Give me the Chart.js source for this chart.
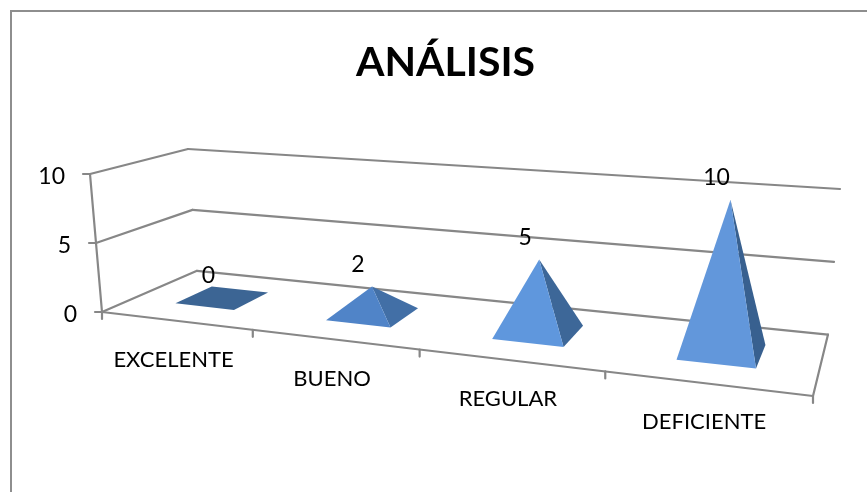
<!DOCTYPE html>
<html>
<head>
<meta charset="utf-8">
<title>ANÁLISIS</title>
<script src="https://cdn.jsdelivr.net/npm/chart.js@4"></script>
<style>
  html, body { margin: 0; padding: 0; background: #fff; }
  #wrap { width: 867px; height: 492px; }
</style>
</head>
<body>
<div id="wrap"><canvas id="chart" width="867" height="492"></canvas></div>
<script>
const categories = ['EXCELENTE', 'BUENO', 'REGULAR', 'DEFICIENTE'];
const values = [0, 2, 5, 10];
const yTicks = [0, 5, 10];

// face colours, one per pyramid (the light falls differently on each slope)
const frontColors = ['#3c6594', '#5084c8', '#5f97dd', '#6297db'];
const sideColors = ['#3c6594', '#426fa6', '#3d6798', '#38608f'];

// the 3D box as it sits on the page: floor and ceiling corners
const FONT = 'Lato, Carlito, "Open Sans", sans-serif';
const LINE = '#878787';
const floorQuad = [[102, 312], [813, 396], [828, 334.6], [197, 270.8]];
const ceilQuad = [[90, 174], [827, 227], [840, 189], [188, 149]];
const BASE_U = 0.2;   // half width of a pyramid base, as a share of its category
const BASE_V = 0.2;   // half depth of a base, depth runs 0..1

// unit square -> quad (u along front edge, v towards the back)
function homography(q) {
  const [p0, p1, p2, p3] = q;
  const dx1 = p1[0] - p2[0], dx2 = p3[0] - p2[0], sx = p0[0] - p1[0] + p2[0] - p3[0];
  const dy1 = p1[1] - p2[1], dy2 = p3[1] - p2[1], sy = p0[1] - p1[1] + p2[1] - p3[1];
  const det = dx1 * dy2 - dx2 * dy1;
  const g = (sx * dy2 - dx2 * sy) / det;
  const h = (dx1 * sy - sx * dy1) / det;
  const a = p1[0] - p0[0] + g * p1[0], b = p3[0] - p0[0] + h * p3[0], c = p0[0];
  const d = p1[1] - p0[1] + g * p1[1], e = p3[1] - p0[1] + h * p3[1], f = p0[1];
  return (u, v) => {
    const k = g * u + h * v + 1;
    return [(a * u + b * v + c) / k, (d * u + e * v + f) / k];
  };
}
const floorMap = homography(floorQuad);
const ceilMap = homography(ceilQuad);

function project(u, v, w) {
  const a = floorMap(u, v), b = ceilMap(u, v);
  return [a[0] + (b[0] - a[0]) * w, a[1] + (b[1] - a[1]) * w];
}

function poly(ctx, pts, fill) {
  ctx.beginPath();
  pts.forEach((p, i) => i ? ctx.lineTo(p[0], p[1]) : ctx.moveTo(p[0], p[1]));
  ctx.closePath();
  ctx.fillStyle = fill;
  ctx.fill();
}

function seg(ctx, a, b) {
  ctx.beginPath();
  ctx.moveTo(a[0], a[1]);
  ctx.lineTo(b[0], b[1]);
  ctx.stroke();
}

const box3d = {
  id: 'box3d',
  beforeDraw(chart) {
    const ctx = chart.ctx;
    ctx.save();
    // chart frame, only top and left are in the picture
    ctx.strokeStyle = '#8e8e8e';
    ctx.lineWidth = 2;
    ctx.beginPath();
    ctx.moveTo(11, 492);
    ctx.lineTo(11, 11);
    ctx.lineTo(867, 11);
    ctx.stroke();
    ctx.restore();
  },
  beforeDatasetsDraw(chart) {
    const ctx = chart.ctx;
    const xs = chart.scales.x, ys = chart.scales.y;
    const area = chart.chartArea;
    const wOf = v => (area.bottom - ys.getPixelForValue(v)) / area.height;
    const uOf = i => (xs.getPixelForValue(i) - area.left) / area.width;
    const cellU = 1 / categories.length;

    ctx.save();
    ctx.strokeStyle = LINE;
    ctx.lineWidth = 2.2;
    ctx.lineCap = 'round';
    ctx.lineJoin = 'round';

    // walls and floor
    ys.ticks.forEach(t => {
      const w = wOf(t.value);
      const a = project(0, 0, w), b = project(0, 1, w), c = project(1, 1, w);
      seg(ctx, [a[0] - 7, a[1]], a);
      seg(ctx, a, b);
      seg(ctx, b, c);
    });
    seg(ctx, project(0, 0, 0), project(0, 0, 1));
    seg(ctx, project(0, 0, 0), project(1, 0, 0));
    seg(ctx, project(1, 0, 0), project(1, 1, 0));
    for (let i = 0; i <= categories.length; i++) {
      const p = project(i * cellU, 0, 0);
      seg(ctx, p, [p[0], p[1] + 7]);
    }

    // axis text
    ctx.fillStyle = '#000';
    ctx.font = '23px ' + FONT;
    ctx.textBaseline = 'middle';
    ctx.textAlign = 'right';
    ys.ticks.forEach(t => {
      const p = project(0, 0, wOf(t.value));
      ctx.fillText(t.label, p[0] - 25, p[1] + 3);
    });
    ctx.textAlign = 'center';
    ctx.font = '22px ' + FONT;
    xs.getLabels().forEach((lab, i) => {
      const p = project(uOf(i), 0, 0);
      ctx.fillText(lab, p[0] - 2, p[1] + 39);
    });

    // pyramids, drawn from the bar values
    chart.data.datasets[0].data.forEach((val, i) => {
      const u = uOf(i), w = wOf(val);
      const du = BASE_U * cellU;
      const fl = project(u - du, 0.5 - BASE_V, 0);
      const fr = project(u + du, 0.5 - BASE_V, 0);
      const br = project(u + du, 0.5 + BASE_V, 0);
      const bl = project(u - du, 0.5 + BASE_V, 0);
      const apex = project(u, 0.5, w);
      if (val === 0) {
        poly(ctx, [fl, fr, br, bl], frontColors[i]);
      } else {
        poly(ctx, [fr, br, apex], sideColors[i]);
        poly(ctx, [fl, fr, apex], frontColors[i]);
      }
      ctx.fillStyle = '#000';
      ctx.font = '23px ' + FONT;
      ctx.textAlign = 'center';
      ctx.textBaseline = 'middle';
      ctx.fillText(String(val), apex[0] - 14, apex[1] - 22);
    });
    ctx.restore();
  }
};

new Chart(document.getElementById('chart'), {
  type: 'bar',
  data: {
    labels: categories,
    datasets: [{
      label: 'ANÁLISIS',
      data: values,
      backgroundColor: 'rgba(0,0,0,0)',
      borderWidth: 0
    }]
  },
  options: {
    responsive: false,
    animation: false,
    events: [],
    layout: { padding: { left: 24 } },
    plugins: {
      legend: { display: false },
      tooltip: { enabled: false },
      title: {
        display: true,
        text: 'ANÁLISIS',
        color: '#000',
        font: { family: FONT, size: 41, weight: 'bold' },
        padding: { top: 38, bottom: 20 }
      }
    },
    scales: {
      x: { display: false, offset: true },
      y: {
        display: false,
        min: yTicks[0],
        max: yTicks[yTicks.length - 1],
        afterBuildTicks: s => { s.ticks = yTicks.map(v => ({ value: v, label: String(v) })); }
      }
    }
  },
  plugins: [box3d]
});
</script>
</body>
</html>
